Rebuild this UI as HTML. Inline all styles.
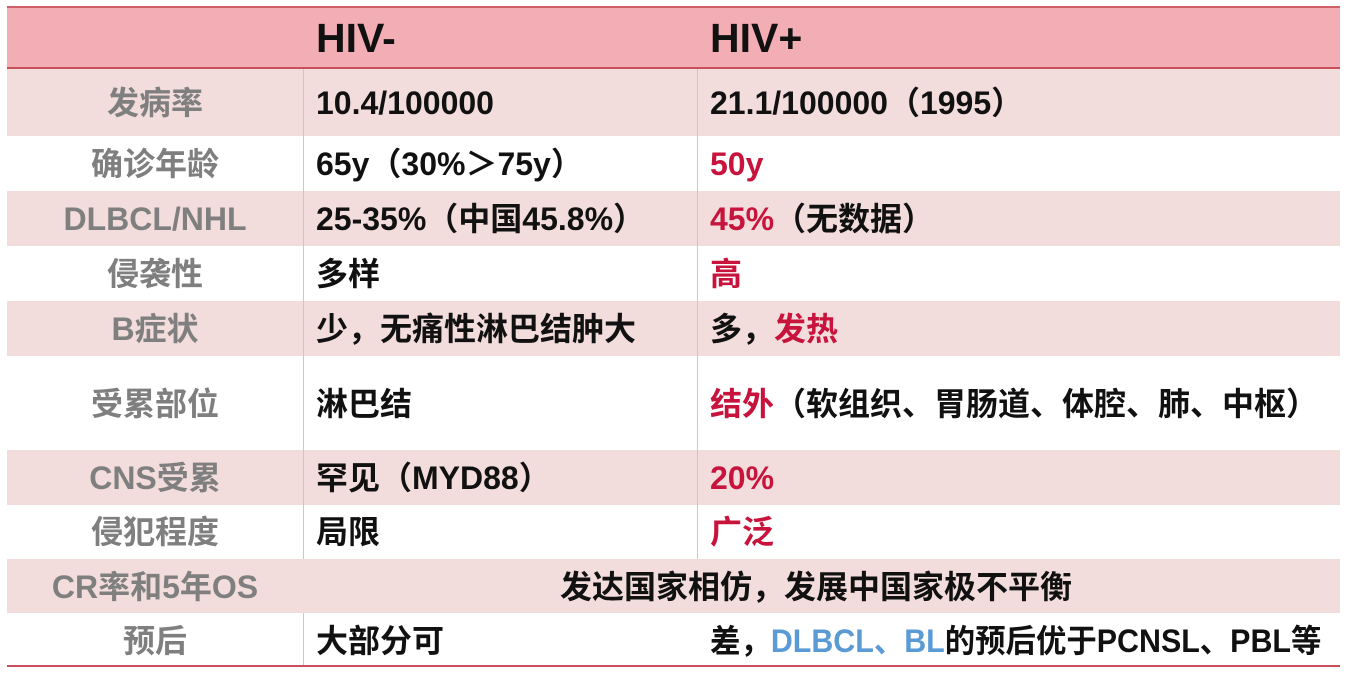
<!DOCTYPE html>
<html><head><meta charset="utf-8"><style>
body{margin:0;width:1346px;height:673px;background:#fff;position:relative;overflow:hidden;font-family:"Liberation Sans","Noto Sans CJK SC",sans-serif;}
.band{position:absolute;left:7px;width:1333px;background:#f2dcdc;}
.t{position:absolute;font-size:32px;font-weight:bold;color:#111;white-space:nowrap;line-height:1;}
.l{position:absolute;left:7px;width:296px;text-align:center;font-size:32px;font-weight:bold;color:#7f7f7f;white-space:nowrap;line-height:1;}
.r{color:#c8143c}.b{color:#5b9bd5}
.v{position:absolute;width:1px;background:#e5bcbc;}
</style></head><body>
<div class="band" style="top:6px;height:63px;background:#f3adb5;border-top:2px solid #d06068;border-bottom:2px solid #c9505a;box-sizing:border-box"></div>
<div class="band" style="top:69px;height:67px"></div>
<div class="band" style="top:191px;height:55px"></div>
<div class="band" style="top:301px;height:55px"></div>
<div class="band" style="top:450px;height:55px"></div>
<div class="band" style="top:559px;height:54px"></div>
<div style="position:absolute;left:7px;width:1333px;top:665px;height:2px;background:#c9505a"></div>
<div class="v" style="left:303px;top:69px;height:490px"></div>
<div class="v" style="left:697px;top:69px;height:490px"></div>
<div class="v" style="left:303px;top:613px;height:52px"></div>
<div class="t" style="left:316px;top:18px;font-size:41px">HIV-</div>
<div class="t" style="left:710px;top:18px;font-size:41px">HIV+</div>

<div class="l" style="top:87px">发病率</div>
<div class="t" style="left:316px;top:87px">10.4/100000</div>
<div class="t" style="left:710px;top:87px">21.1/100000（1995）</div>

<div class="l" style="top:148px">确诊年龄</div>
<div class="t" style="left:316px;top:148px">65y（30%＞75y）</div>
<div class="t r" style="left:710px;top:148px">50y</div>

<div class="l" style="top:203px">DLBCL/NHL</div>
<div class="t" style="left:316px;top:203px">25-35%（中国45.8%）</div>
<div class="t" style="left:710px;top:203px"><span class="r">45%</span>（无数据）</div>

<div class="l" style="top:258px">侵袭性</div>
<div class="t" style="left:316px;top:258px">多样</div>
<div class="t r" style="left:710px;top:258px">高</div>

<div class="l" style="top:313px">B症状</div>
<div class="t" style="left:316px;top:313px">少，无痛性淋巴结肿大</div>
<div class="t" style="left:710px;top:313px">多，<span class="r">发热</span></div>

<div class="l" style="top:388px">受累部位</div>
<div class="t" style="left:316px;top:388px">淋巴结</div>
<div class="t" style="left:710px;top:388px"><span class="r">结外</span>（软组织、胃肠道、体腔、肺、中枢）</div>

<div class="l" style="top:462px">CNS受累</div>
<div class="t" style="left:316px;top:462px">罕见（MYD88）</div>
<div class="t r" style="left:710px;top:462px">20%</div>

<div class="l" style="top:516px">侵犯程度</div>
<div class="t" style="left:316px;top:516px">局限</div>
<div class="t r" style="left:710px;top:516px">广泛</div>

<div class="l" style="top:571px">CR率和5年OS</div>
<div class="t" style="left:560px;top:571px">发达国家相仿，发展中国家极不平衡</div>

<div class="l" style="top:625px">预后</div>
<div class="t" style="left:316px;top:625px">大部分可</div>
<div class="t" style="left:710px;top:625px;transform:scaleX(0.95);transform-origin:left">差，<span class="b">DLBCL、BL</span>的预后优于PCNSL、PBL等</div>
</body></html>
